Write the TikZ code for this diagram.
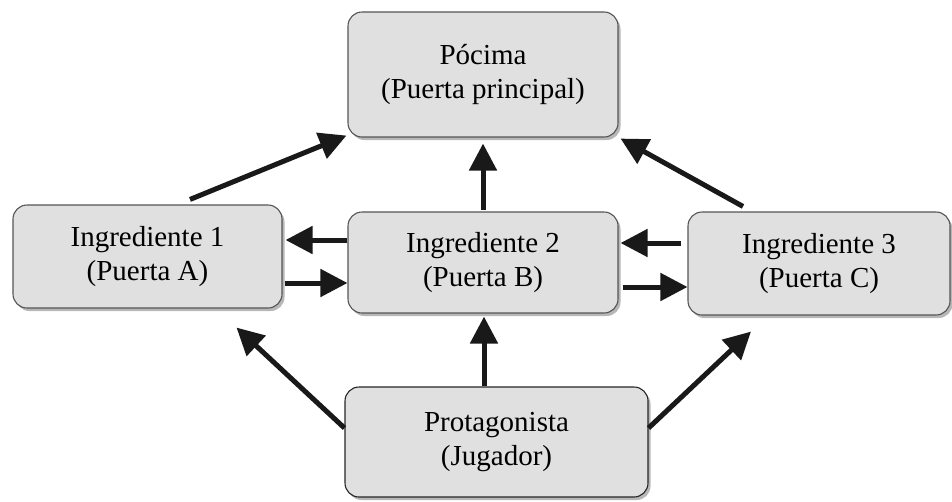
\documentclass[tikz,border=0pt]{standalone}
\usepackage{fontspec}
\setmainfont{Liberation Serif}
\usetikzlibrary{arrows.meta,shadows,calc}
\definecolor{boxfill}{HTML}{E0E0E0}
\definecolor{boxline}{HTML}{555555}
\newcommand\twolines[3][5pt]{\raisebox{#1}{\begin{tabular}{@{}c@{}}#2\\#3\end{tabular}}}
\tikzset{
  gbox/.style={draw=boxline, line width=1.1pt, fill=boxfill, rounded corners=14pt,
    inner sep=0pt, align=center, font=\fontsize{29}{34}\selectfont,
    drop shadow={shadow xshift=2.5pt, shadow yshift=-3pt, fill=black!40, opacity=0.7}},
  arr/.style={line width=5pt, draw=black!90, -{Triangle[length=27pt,width=27pt]}}
}
\begin{document}
\begin{tikzpicture}[x=1pt,y=-1pt]
\path[fill=white,use as bounding box] (0,0) rectangle (952,501);
\node[gbox, minimum width=270pt, minimum height=125pt] (T) at (483,74.5) {\twolines[8pt]{Pócima}{(Puerta principal)}};
\node[gbox, minimum width=269pt, minimum height=103pt] (L) at (147.5,256.5) {\twolines[2pt]{Ingrediente 1}{(Puerta A)}};
\node[gbox, minimum width=270pt, minimum height=101pt] (M) at (483,262.5) {\twolines[10pt]{Ingrediente 2}{(Puerta B)}};
\node[gbox, minimum width=262pt, minimum height=103pt] (R) at (819,263.5) {\twolines[1pt]{Ingrediente 3}{(Puerta C)}};
\node[gbox, minimum width=303pt, minimum height=110pt, draw=black!85] (B) at (496.5,442) {\twolines[7pt]{Protagonista}{(Jugador)}};
% to top
\draw[arr] ([xshift=42.5pt,yshift=5pt]L.north) -- ([xshift=-1pt,yshift=2pt]T.south west);
\draw[arr] ([yshift=1pt]M.north) -- ([yshift=-6pt]T.south);
\draw[arr] ([xshift=-76pt,yshift=5pt]R.north) -- ([xshift=2pt,yshift=-1pt]T.south east);
% left <-> middle
\draw[arr] ($(M.west)+(0,22.5pt)$) -- ($(L.east |- M.west)+(3pt,22.5pt)$);
\draw[arr] ($(L.east |- M.west)+(2pt,-20.5pt)$) -- ($(M.west)+(0,-20.5pt)$);
% middle <-> right
\draw[arr] ($(R.west |- M.east)+(-6pt,19.5pt)$) -- ($(M.east)+(2pt,19.5pt)$);
\draw[arr] ($(M.east)+(4pt,-24.5pt)$) -- ($(R.west |- M.east)+(0,-24.5pt)$);
% from bottom
\draw[arr] ([yshift=14pt]B.west) -- ([xshift=89pt,yshift=-19pt]L.south);
\draw[arr] ([xshift=-12.5pt]B.north) -- ([xshift=1pt,yshift=-3pt]M.south);
\draw[arr] ([yshift=14pt]B.east) -- ([xshift=-68pt,yshift=-16pt]R.south);
\end{tikzpicture}
\end{document}
